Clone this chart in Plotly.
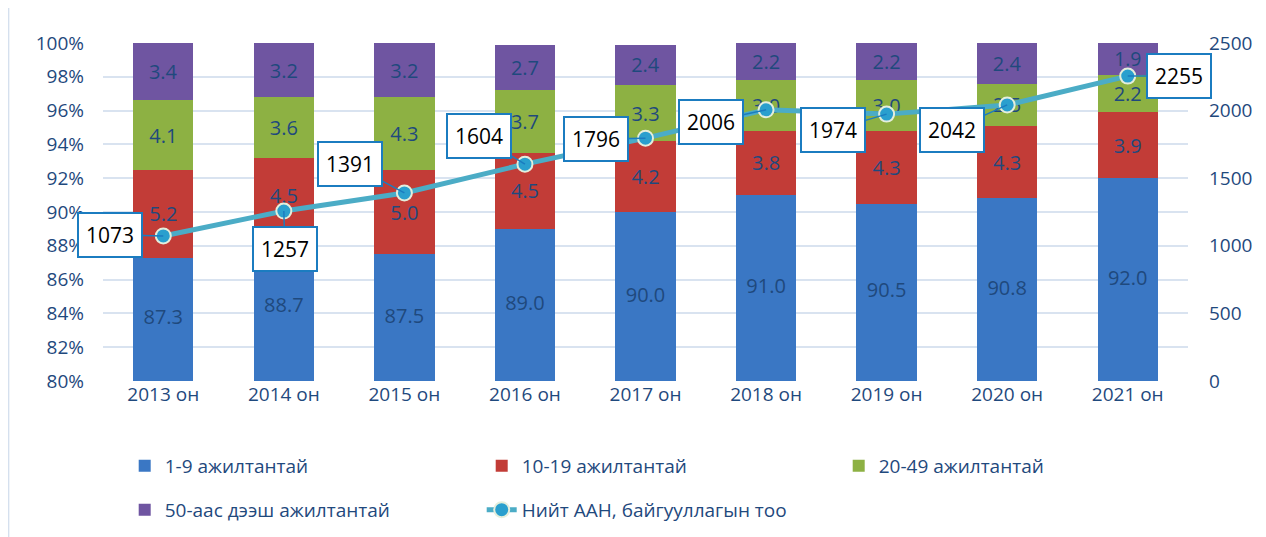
import plotly.graph_objects as go

years = ["2013 он", "2014 он", "2015 он", "2016 он", "2017 он", "2018 он", "2019 он", "2020 он", "2021 он"]
s1_9 = [87.3, 88.7, 87.5, 89.0, 90.0, 91.0, 90.5, 90.8, 92.0]
s10_19 = [5.2, 4.5, 5.0, 4.5, 4.2, 3.8, 4.3, 4.3, 3.9]
s20_49 = [4.1, 3.6, 4.3, 3.7, 3.3, 3.0, 3.0, 2.5, 2.2]
s50 = [3.4, 3.2, 3.2, 2.7, 2.4, 2.2, 2.2, 2.4, 1.9]
total = [1073, 1257, 1391, 1604, 1796, 2006, 1974, 2042, 2255]
left_ticks = [80, 82, 84, 86, 88, 90, 92, 94, 96, 98, 100]
left_labels = [f"{v}%" for v in left_ticks]
right_ticks = [0, 500, 1000, 1500, 2000, 2500]

# callout offsets (pixels) for each total label
lab_ax = [-53, 1, -54, -46, -50, -55, -54, -55, 51]
lab_ay = [-1, 38, -29, -28, 1, 12, 16, 25, 0]

TXT = "#1F497D"
FONT = "Open Sans"
names = ["1-9 ажилтантай", "10-19 ажилтантай", "20-49 ажилтантай", "50-аас дээш ажилтантай"]
colors = ["#3A77C4", "#C23C37", "#8DB143", "#6F55A1"]

fig = go.Figure()
for i, (vals, nm, col) in enumerate(zip([s1_9, s10_19, s20_49, s50], names, colors)):
    fig.add_trace(go.Bar(
        x=years, y=vals, name=nm, marker=dict(color=col, line=dict(width=0)),
        text=None if i == 0 else [f"{v:.1f}" for v in vals],
        textposition="inside", insidetextanchor="middle",
        textfont=dict(color=TXT, size=20, family=FONT),
        legend="legend" if i < 3 else "legend2",
    ))

# labels of the 1-9 segment centred in its visible part
fig.add_trace(go.Scatter(
    x=years, y=[(80 + v) / 2 for v in s1_9], mode="text",
    text=[f"{v:.1f}" for v in s1_9], textfont=dict(color=TXT, size=20, family=FONT),
    showlegend=False, hoverinfo="skip",
))

fig.add_trace(go.Scatter(
    x=years, y=total, yaxis="y2", name="Нийт ААН, байгууллагын тоо",
    mode="lines+markers", line=dict(color="#4BACC6", width=5),
    marker=dict(size=15, color="#2A9FCE", line=dict(color="#E4EEDC", width=2)),
    legend="legend2",
))

for i, (yr, v) in enumerate(zip(years, total)):
    fig.add_annotation(
        x=yr, y=v, yref="y2", text=str(v), showarrow=True, arrowhead=0, arrowwidth=1.5,
        arrowcolor="#1B7CC0", ax=lab_ax[i], ay=lab_ay[i],
        font=dict(color="black", size=21, family=FONT), bgcolor="white",
        bordercolor="#1B7CC0", borderwidth=2, borderpad=7,
    )

fig.add_shape(type="line", xref="paper", yref="paper", x0=-0.087, x1=-0.087, y0=-0.5, y1=1.15,
              line=dict(color="#D5E0EE", width=1.5))

fig.update_layout(
    width=1266, height=537, barmode="stack", bargap=0.5,
    margin=dict(l=95, r=86, t=35, b=164, autoexpand=False),
    paper_bgcolor="white", plot_bgcolor="white",
    font=dict(family=FONT, color=TXT, size=19),
    xaxis=dict(range=[-0.5, 8.5], showgrid=False, tickfont=dict(size=19, color=TXT), ticks="",
               showline=False, automargin=False),
    yaxis=dict(range=[80, 100], tickvals=left_ticks, ticktext=left_labels, gridcolor="#D9E3F0",
               gridwidth=2, zeroline=False, tickfont=dict(size=19, color=TXT), ticklabelstandoff=18,
               automargin=False),
    yaxis2=dict(range=[0, 2500], tickvals=right_ticks, overlaying="y", side="right", showgrid=False,
                zeroline=False, tickfont=dict(size=19, color=TXT), ticklabelstandoff=20,
                automargin=False),
    legend=dict(orientation="h", x=0.02, y=-0.195, xanchor="left", yanchor="top", traceorder="normal",
                entrywidth=312, font=dict(size=19, color=TXT)),
    legend2=dict(orientation="h", x=0.02, y=-0.325, xanchor="left", yanchor="top", traceorder="normal",
                 entrywidth=312, font=dict(size=19, color=TXT)),
    showlegend=True,
)

fig.write_html("out.html")
